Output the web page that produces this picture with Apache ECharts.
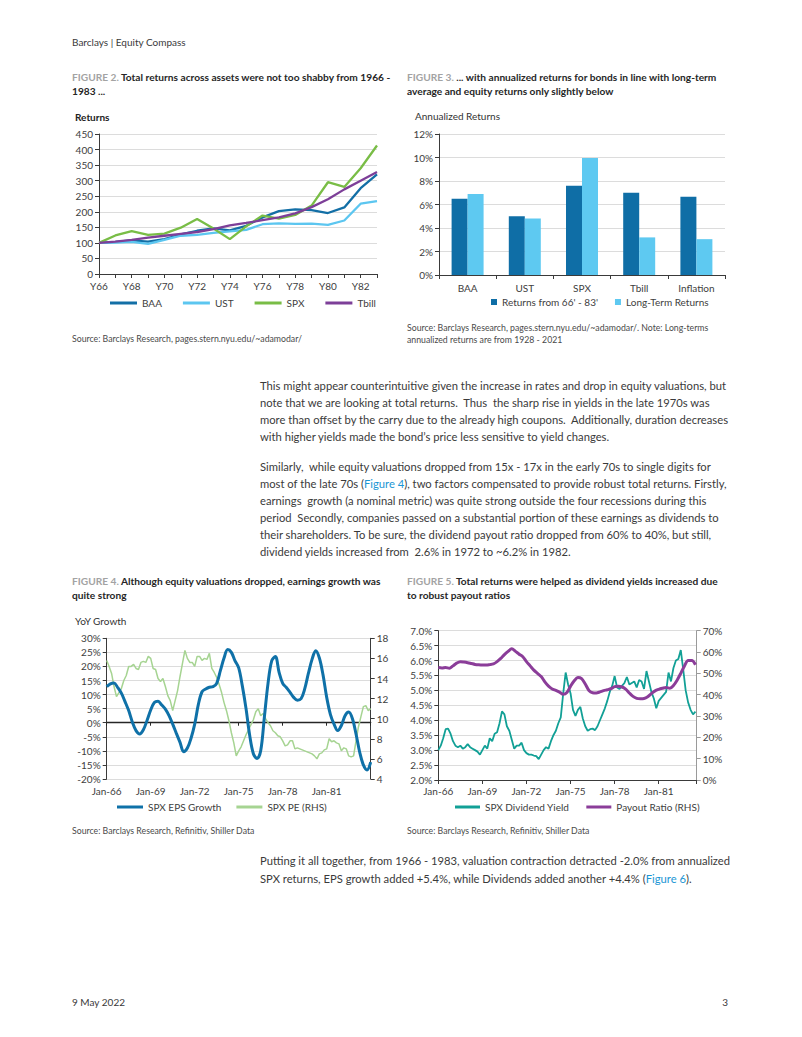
<!DOCTYPE html>
<html>
<head>
<meta charset="utf-8">
<script src="https://cdn.jsdelivr.net/npm/echarts@6/dist/echarts.min.js"></script>
<style>
  html,body{margin:0;padding:0;background:#fff;}
  #page{position:relative;width:802px;height:1037px;overflow:hidden;background:#fff;font-family:Lato,"Noto Sans",sans-serif;}
  .ln{position:absolute;white-space:pre;color:#3a3a3a;line-height:16px;}
  .ttl{color:#262626;font-weight:bold;}
  .ttl .fig{color:#a3a3a3;}
  .src{color:#4a4a4a;}
  .lnk{color:#1a96d4;}
  .chart{position:absolute;}
</style>
</head>
<body>
<div id="page">
  <div id="c2" class="chart" style="left:60px;top:100px;width:340px;height:220px;"></div>
  <div id="c3" class="chart" style="left:400px;top:100px;width:340px;height:220px;"></div>
  <div id="c4" class="chart" style="left:60px;top:605px;width:340px;height:215px;"></div>
  <div id="c5" class="chart" style="left:400px;top:605px;width:340px;height:215px;"></div>
</div>
<script>
// ---------------- DATA ----------------
const years = ['Y66','Y67','Y68','Y69','Y70','Y71','Y72','Y73','Y74','Y75','Y76','Y77','Y78','Y79','Y80','Y81','Y82','Y83'];
const baa   = [100,103,108,104,112,127,139,147,140,155,182,202,208,205,196,214,276,320];
const ust   = [100,101,103,97,110,123,126,132,137,142,160,163,161,162,158,172,226,234];
const spx   = [100,124,138,126,130,149,177,146,112,153,188,178,190,220,295,280,340,413];
const tbill = [100,104,110,117,123,129,135,144,156,164,173,182,195,215,240,272,300,328];

const assetCats    = ['BAA','UST','SPX','Tbill','Inflation'];
const ret6683      = [6.5,5.0,7.6,7.0,6.65];
const retLongTerm  = [6.9,4.8,9.95,3.2,3.05];

const dateTickLabels = ['Jan-66','Jan-69','Jan-72','Jan-75','Jan-78','Jan-81'];
// months since Jan-66; EPS growth sampled quarterly (every 3 months)
const epsGrowth = [12.8,13.8,14.1,12.5,10.5,7.5,4.3,0.2,-2.8,-4.0,
  -2.5,0.8,4.5,7.2,7.6,6.3,4.8,2.5,-0.5,-3.8,
  -7.0,-10.3,-9.0,-5.5,-0.5,6.5,11.0,12.0,12.6,12.8,
  14.0,18.5,23.0,26.0,25.0,22.0,19.5,13.0,5.0,-4.5,
  -11.0,-12.7,-10.0,2.0,14.0,22.0,23.5,18.0,14.0,12.5,
  10.8,9.0,8.0,8.5,12.0,17.5,22.5,25.6,23.0,17.0,
  9.0,3.0,-0.5,-2.8,-1.0,2.5,3.8,1.5,-4.0,-10.5,
  -15.0,-16.8,-14.0];
// SPX PE sampled every 2 months
const peRatio = [15.8,15.2,14.5,13.2,12.2,12.6,13.0,13.8,14.3,15.2,
  15.2,15.4,15.0,14.9,15.6,15.7,15.6,16.2,16.0,15.0,
  14.9,14.0,13.7,14.0,13.2,12.3,11.8,10.8,11.8,12.8,
  14.2,15.5,16.8,16.0,15.6,15.6,15.2,16.2,16.2,15.8,
  16.0,15.9,16.5,15.0,14.6,14.1,13.4,12.6,11.6,10.8,
  9.8,8.6,7.6,6.3,6.8,7.2,7.8,8.4,8.9,9.4,
  9.9,10.7,11.0,10.3,10.5,10.0,9.6,9.3,8.8,8.6,
  8.3,8.2,7.8,7.3,7.4,7.8,7.8,7.0,7.1,7.0,
  6.9,6.8,6.7,6.6,6.5,6.3,6.0,6.5,6.6,6.9,
  7.0,8.0,7.7,7.8,7.6,7.5,6.8,7.1,7.0,6.3,
  6.2,6.3,7.8,9.2,10.2,11.2,11.3,10.8,11.0];
// SPX dividend yield sampled every 2 months
const divYield = [3.0,3.15,3.4,3.7,3.72,3.55,3.3,3.15,3.1,3.15,
  3.05,3.1,3.2,3.1,3.05,3.0,2.95,2.85,3.0,3.15,
  3.05,3.4,3.3,3.55,3.6,3.9,4.3,4.2,3.8,3.65,
  3.35,3.05,3.15,3.15,3.25,3.0,2.9,2.85,2.85,2.82,
  2.8,2.7,2.85,3.0,3.1,3.05,3.3,3.5,3.65,3.9,
  4.1,4.9,5.6,5.2,4.9,4.35,4.15,4.35,4.45,4.06,
  3.8,3.65,3.7,3.72,3.67,3.8,4.0,4.2,4.4,4.65,
  4.95,5.15,5.48,5.1,5.05,5.15,5.25,5.45,5.2,5.25,
  5.3,5.1,5.35,5.3,5.05,5.65,5.3,4.95,4.73,4.4,
  4.65,4.75,4.85,4.95,5.6,5.3,5.75,6.0,6.05,6.35,
  5.7,5.0,4.6,4.35,4.2,4.29];
// Payout ratio sampled quarterly
const payoutRatio = [52.7,52.5,52.8,52.4,53.5,54.8,55.5,55.3,55.0,54.6,
  54.2,54.0,53.9,53.9,54.1,54.4,55.5,57.0,58.8,60.3,
  61.5,60.3,59.0,57.8,55.5,53.5,51.5,50.0,48.5,46.0,
  44.0,42.7,42.0,41.2,40.2,41.0,44.0,46.5,48.0,47.5,
  45.0,42.0,40.9,40.8,41.3,41.9,42.3,42.8,43.8,44.0,
  43.6,42.6,40.8,39.2,38.3,38.1,38.2,39.0,40.5,41.8,
  42.5,43.0,43.4,43.0,44.3,46.8,50.0,53.5,56.0,56.0,
  54.0];

// ---------------- PAGE TEXT ----------------
const page = document.getElementById('page');
const cv = document.createElement('canvas').getContext('2d');
function fitSize(text, weight, target){
  cv.font = weight + ' 100px Lato';
  return 100 * target / cv.measureText(text).width;
}
function addLine(html, x, yc, size, cls, weight, align){
  const d = document.createElement('div');
  d.className = 'ln ' + (cls||'');
  d.innerHTML = html;
  d.style.fontSize = size.toFixed(2) + 'px';
  d.style.lineHeight = '16px';
  d.style.top = (yc - 8) + 'px';
  if (align === 'right') { d.style.right = (802 - x) + 'px'; } else { d.style.left = x + 'px'; }
  page.appendChild(d);
  return d;
}
const bodySize = fitSize('This might appear counterintuitive given the increase in rates and drop in equity valuations, but', 'normal', 467);
const ttlSize  = fitSize('FIGURE 2. Total returns across assets were not too shabby from 1966 -', 'bold', 319);
const srcSize  = fitSize('Source: Barclays Research, pages.stern.nyu.edu/~adamodar/', 'normal', 230);
const hdrSize  = fitSize('Barclays | Equity Compass', 'normal', 114);

addLine('Barclays | Equity Compass', 72, 42, hdrSize, '', 'normal');
addLine('9 May 2022', 72, 1002, hdrSize, '', 'normal');
addLine('3', 728, 1002, hdrSize, '', 'normal', 'right');

addLine('<span class="fig">FIGURE 2.</span> Total returns across assets were not too shabby from 1966 -', 72, 76.5, ttlSize, 'ttl');
addLine('1983 ...', 72, 91, ttlSize, 'ttl');
addLine('<span class="fig">FIGURE 3.</span> ... with annualized returns for bonds in line with long-term', 407, 76.5, ttlSize, 'ttl');
addLine('average and equity returns only slightly below', 407, 91, ttlSize, 'ttl');
addLine('<span class="fig">FIGURE 4.</span> Although equity valuations dropped, earnings growth was', 72, 581, ttlSize, 'ttl');
addLine('quite strong', 72, 595, ttlSize, 'ttl');
addLine('<span class="fig">FIGURE 5.</span> Total returns were helped as dividend yields increased due', 407, 581, ttlSize, 'ttl');
addLine('to robust payout ratios', 407, 595, ttlSize, 'ttl');

addLine('Source: Barclays Research, pages.stern.nyu.edu/~adamodar/', 72, 338.5, srcSize, 'src');
addLine('Source: Barclays Research, pages.stern.nyu.edu/~adamodar/. Note: Long-terms', 407, 328, srcSize, 'src');
addLine('annualized returns are from 1928 - 2021', 407, 339.5, srcSize, 'src');
addLine('Source: Barclays Research, Refinitiv, Shiller Data', 72, 831, srcSize, 'src');
addLine('Source: Barclays Research, Refinitiv, Shiller Data', 407, 831, srcSize, 'src');

const p1 = ['This might appear counterintuitive given the increase in rates and drop in equity valuations, but',
  'note that we are looking at total returns.  Thus  the sharp rise in yields in the late 1970s was',
  'more than offset by the carry due to the already high coupons.  Additionally, duration decreases',
  'with higher yields made the bond\u2019s price less sensitive to yield changes.'];
p1.forEach((t,i)=>addLine(t, 260, 386 + i*16.9, bodySize, ''));
const p2 = ['Similarly,  while equity valuations dropped from 15x - 17x in the early 70s to single digits for',
  'most of the late 70s (<span class="lnk">Figure 4</span>), two factors compensated to provide robust total returns. Firstly,',
  'earnings  growth (a nominal metric) was quite strong outside the four recessions during this',
  'period  Secondly, companies passed on a substantial portion of these earnings as dividends to',
  'their shareholders. To be sure, the dividend payout ratio dropped from 60% to 40%, but still,',
  'dividend yields increased from  2.6% in 1972 to ~6.2% in 1982.'];
p2.forEach((t,i)=>addLine(t, 260, 466.5 + i*17, bodySize, ''));
const p3 = ['Putting it all together, from 1966 - 1983, valuation contraction detracted -2.0% from annualized',
  'SPX returns, EPS growth added +5.4%, while Dividends added another +4.4% (<span class="lnk">Figure 6</span>).'];
p3.forEach((t,i)=>addLine(t, 260, 861 + i*17.5, bodySize, ''));

// ---------------- CHARTS ----------------
const FONT = 'Lato';
const lbl = {color:'#404040', fontSize:10, fontFamily:FONT};
const axisDark = {show:true, lineStyle:{color:'#3a3a3a', width:1}};
const tickDark = {show:true, length:4, lineStyle:{color:'#3a3a3a'}};
const gridLine = {show:true, lineStyle:{color:'#dcdcdc', width:1}};

function series(arr, step){ return arr.map((v,i)=>[i*step, v]); }

// Figure 2
echarts.init(document.getElementById('c2'), null, {renderer:'svg'}).setOption({
  animation:false,
  textStyle:{fontFamily:FONT},
  grid:{left:39, top:34, width:278, height:140, containLabel:false, outerBoundsMode:'none'},
  graphic:[{type:'text', left:15, top:12, style:{text:'Returns', fontWeight:'bold', fontSize:10, fontFamily:FONT, fill:'#222'}}],
  legend:{left:50, top:198, padding:0, icon:'rect', itemWidth:27, itemHeight:3, itemGap:21,
    textStyle:{fontSize:10, color:'#404040', fontFamily:FONT}, data:['BAA','UST','SPX','Tbill']},
  xAxis:{type:'category', data:years, boundaryGap:false, axisLine:axisDark,
    axisTick:{show:true, length:4, interval:0, lineStyle:{color:'#3a3a3a'}},
    axisLabel:Object.assign({interval:1, margin:7}, lbl), splitLine:{show:false}},
  yAxis:{type:'value', min:0, max:450, interval:50, axisLine:axisDark, axisTick:tickDark,
    axisLabel:Object.assign({margin:6}, lbl), splitLine:gridLine},
  series:[
    {name:'BAA', type:'line', data:baa, showSymbol:false, lineStyle:{width:2.3, color:'#136fa6'}, itemStyle:{color:'#136fa6'}},
    {name:'UST', type:'line', data:ust, showSymbol:false, lineStyle:{width:2.3, color:'#5cc6f0'}, itemStyle:{color:'#5cc6f0'}},
    {name:'SPX', type:'line', data:spx, showSymbol:false, lineStyle:{width:2.3, color:'#79bd46'}, itemStyle:{color:'#79bd46'}},
    {name:'Tbill', type:'line', data:tbill, showSymbol:false, lineStyle:{width:2.3, color:'#7d3f98'}, itemStyle:{color:'#7d3f98'}}
  ]
});

// Figure 3
echarts.init(document.getElementById('c3'), null, {renderer:'svg'}).setOption({
  animation:false,
  textStyle:{fontFamily:FONT},
  grid:{left:39, top:34, width:286, height:141, containLabel:false, outerBoundsMode:'none'},
  graphic:[{type:'text', left:15, top:11, style:{text:'Annualized Returns', fontSize:10, fontFamily:FONT, fill:'#333'}}],
  legend:{left:91, top:197, padding:0, icon:'rect', itemWidth:6, itemHeight:6, itemGap:17,
    textStyle:{fontSize:10, color:'#404040', fontFamily:FONT}},
  xAxis:{type:'category', data:assetCats, axisLine:axisDark, axisTick:{show:true, length:4, lineStyle:{color:'#3a3a3a'}},
    axisLabel:Object.assign({margin:8}, lbl)},
  yAxis:{type:'value', min:0, max:12, interval:2, axisLine:axisDark, axisTick:tickDark,
    axisLabel:Object.assign({margin:6, formatter:'{value}%'}, lbl), splitLine:gridLine},
  series:[
    {name:"Returns from 66' - 83'", type:'bar', data:ret6683, barWidth:16, barGap:'0%', itemStyle:{color:'#0f6ea6'}},
    {name:'Long-Term Returns', type:'bar', data:retLongTerm, barWidth:16, barGap:'0%', itemStyle:{color:'#5ec9f1'}}
  ]
});

// Figure 4
echarts.init(document.getElementById('c4'), null, {renderer:'svg'}).setOption({
  animation:false,
  textStyle:{fontFamily:FONT},
  grid:{left:46.7, top:33.3, width:264, height:140.7, containLabel:false, outerBoundsMode:'none'},
  graphic:[{type:'text', left:15, top:11, style:{text:'YoY Growth', fontSize:10, fontFamily:FONT, fill:'#333'}}],
  legend:{left:57, top:197, padding:0, icon:'rect', itemWidth:26, itemHeight:3, itemGap:15,
    textStyle:{fontSize:10, color:'#404040', fontFamily:FONT}, data:['SPX EPS Growth','SPX PE (RHS)']},
  xAxis:{type:'value', min:0, max:216, interval:36,
    axisLine:{show:true, onZero:true, lineStyle:{color:'#262626', width:1.3}},
    axisTick:{show:true, length:3, lineStyle:{color:'#262626'}},
    axisLabel:Object.assign({margin:7, formatter:(v)=>dateTickLabels[Math.round(v/36)]||''}, lbl),
    splitLine:{show:false}},
  yAxis:[
    {type:'value', min:-20, max:30, interval:5, axisLine:axisDark, axisTick:tickDark,
      axisLabel:Object.assign({margin:6, formatter:'{value}%'}, lbl), splitLine:gridLine},
    {type:'value', min:4, max:18, interval:2, position:'right', axisLine:axisDark, axisTick:tickDark,
      axisLabel:Object.assign({margin:6}, lbl), splitLine:{show:false}}
  ],
  series:[
    {name:'SPX PE (RHS)', type:'line', yAxisIndex:1, data:series(peRatio,2), showSymbol:false,
      lineStyle:{width:1.5, color:'#a6d492'}, itemStyle:{color:'#a6d492'}},
    {name:'SPX EPS Growth', type:'line', yAxisIndex:0, data:series(epsGrowth,3), showSymbol:false, smooth:0.35,
      lineStyle:{width:3, color:'#0f71a8'}, itemStyle:{color:'#0f71a8'}}
  ]
});

// Figure 5
echarts.init(document.getElementById('c5'), null, {renderer:'svg'}).setOption({
  animation:false,
  textStyle:{fontFamily:FONT},
  grid:{left:38.3, top:25.7, width:258.4, height:149.3, containLabel:false, outerBoundsMode:'none'},
  legend:{left:55, top:197, padding:0, icon:'rect', itemWidth:25, itemHeight:3, itemGap:17,
    textStyle:{fontSize:10, color:'#404040', fontFamily:FONT}, data:['SPX Dividend Yield','Payout Ratio (RHS)']},
  xAxis:{type:'value', min:0, max:211, interval:36,
    axisLine:{show:true, onZero:false, lineStyle:{color:'#3a3a3a'}},
    axisTick:{show:true, length:4, lineStyle:{color:'#3a3a3a'}},
    axisLabel:Object.assign({margin:6, formatter:(v)=>dateTickLabels[Math.round(v/36)]||''}, lbl),
    splitLine:{show:false}},
  yAxis:[
    {type:'value', min:2, max:7, interval:0.5, axisLine:axisDark, axisTick:tickDark,
      axisLabel:Object.assign({margin:6, formatter:(v)=>v.toFixed(1)+'%'}, lbl), splitLine:gridLine},
    {type:'value', min:0, max:70, interval:10, position:'right', axisLine:{show:true, lineStyle:{color:'#9a9a9a'}},
      axisTick:{show:true, length:4, lineStyle:{color:'#9a9a9a'}},
      axisLabel:Object.assign({margin:6, formatter:'{value}%'}, lbl), splitLine:{show:false}}
  ],
  series:[
    {name:'SPX Dividend Yield', type:'line', yAxisIndex:0, data:series(divYield,2), showSymbol:false,
      lineStyle:{width:1.8, color:'#12a096'}, itemStyle:{color:'#12a096'}},
    {name:'Payout Ratio (RHS)', type:'line', yAxisIndex:1, data:series(payoutRatio,3), showSymbol:false, smooth:0.3,
      lineStyle:{width:3, color:'#8b3d99'}, itemStyle:{color:'#8b3d99'}}
  ]
});
</script>
</body>
</html>
